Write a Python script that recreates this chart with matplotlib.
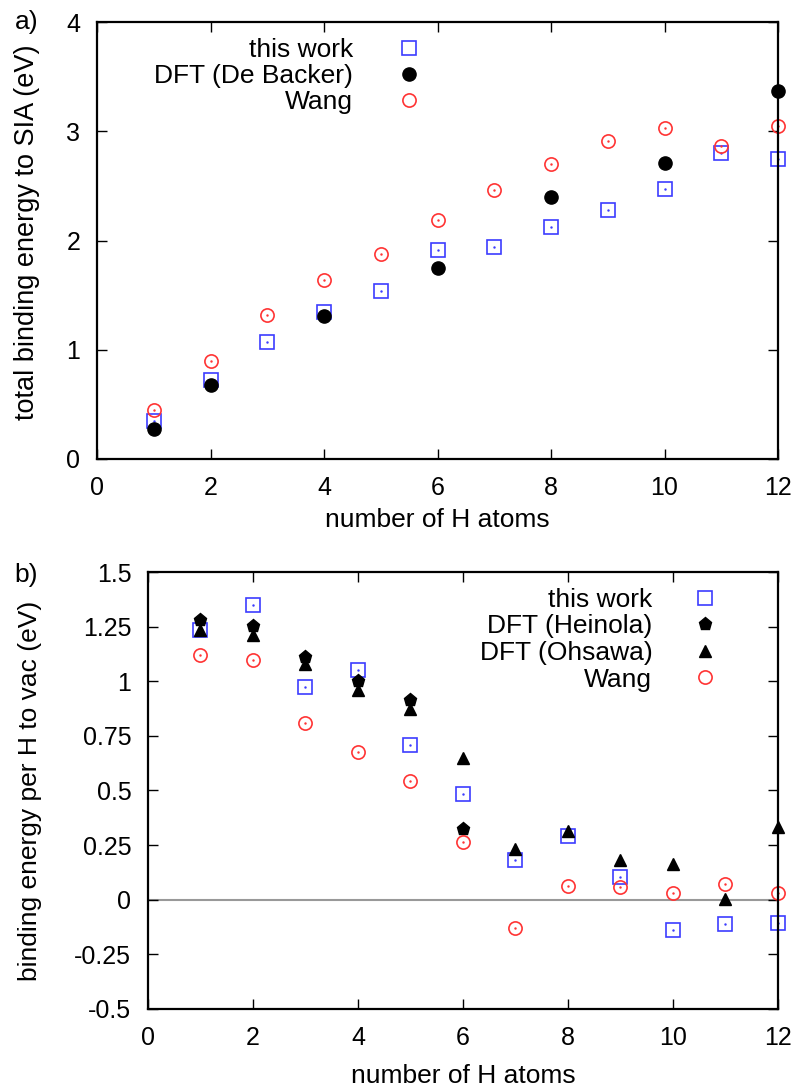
import matplotlib
matplotlib.use("Agg")
import matplotlib.pyplot as plt
import numpy as np

plt.rcParams['font.family'] = ['Liberation Sans', 'DejaVu Sans']
plt.rcParams['axes.unicode_minus'] = False

# ---- data: panel a) total binding energy to SIA (eV)
n_a = [1, 2, 3, 4, 5, 6, 7, 8, 9, 10, 11, 12]
a_this_work = [0.35, 0.72, 1.07, 1.35, 1.54, 1.915, 1.94, 2.125, 2.28, 2.475, 2.80, 2.745]
n_backer = [1, 2, 4, 6, 8, 10, 12]
a_debacker = [0.27, 0.68, 1.305, 1.75, 2.40, 2.71, 3.37]
a_wang = [0.45, 0.895, 1.315, 1.64, 1.88, 2.19, 2.465, 2.70, 2.91, 3.03, 2.865, 3.05]

# ---- data: panel b) binding energy per H to vac (eV)
n_b = [1, 2, 3, 4, 5, 6, 7, 8, 9, 10, 11, 12]
b_this_work = [1.235, 1.35, 0.975, 1.052, 0.706, 0.486, 0.184, 0.29, 0.104, -0.137, -0.111, -0.108]
n_heinola = [1, 2, 3, 4, 5, 6]
b_heinola = [1.282, 1.255, 1.111, 1.0, 0.913, 0.322]
b_ohsawa = [1.233, 1.21, 1.078, 0.96, 0.873, 0.649, 0.23, 0.314, 0.18, 0.162, 0.005, 0.331]
b_wang = [1.12, 1.095, 0.808, 0.674, 0.544, 0.262, -0.131, 0.063, 0.058, 0.030, 0.073, 0.029]

xticks = [0, 2, 4, 6, 8, 10, 12]
yticks_a = [0, 1, 2, 3, 4]
yticks_b = [1.5, 1.25, 1, 0.75, 0.5, 0.25, 0, -0.25, -0.5]
yticklabels_b = ['1.5', '1.25', '1', '0.75', '0.5', '0.25', '0', '-0.25', '-0.5']

BLUE = '#3c3cff'
RED = '#ff3434'
FS = 19
TFS = 18
MS = 9.5

fig = plt.figure(figsize=(7.99, 10.91), dpi=100)
ax1 = fig.add_axes([0.1215, 0.5793, 0.8522, 0.4005])
ax2 = fig.add_axes([0.1852, 0.0752, 0.7885, 0.4005])


def style(ax):
    for s in ax.spines.values():
        s.set_linewidth(1.6)
    ax.tick_params(direction='in', length=7, width=1.0, top=True, right=True,
                   labelsize=TFS, colors='black')
    ax.tick_params(axis='x', pad=12)
    ax.tick_params(axis='y', pad=12)
    ax.set_xlim(0, 12)
    ax.set_xticks(xticks)


def pts(ax, x, y, **kw):
    ax.plot(x, y, linestyle='none', clip_on=False, **kw)


def dot(ax, x, y, color):
    pts(ax, x, y, marker='.', markersize=1.5, color=color)


# panel a
pts(ax1, n_a, a_this_work, marker='s', markersize=MS,
    markerfacecolor='none', markeredgecolor=BLUE, markeredgewidth=1.2, label='this work')
dot(ax1, n_a, a_this_work, BLUE)
pts(ax1, n_backer, a_debacker, marker='o', markersize=MS,
    color='black', label='DFT (De Backer)')
pts(ax1, n_a, a_wang, marker='o', markersize=MS,
    markerfacecolor='none', markeredgecolor=RED, markeredgewidth=1.2, label='Wang')
dot(ax1, n_a, a_wang, RED)
style(ax1)
ax1.set_ylim(0, 4)
ax1.set_yticks(yticks_a)
ax1.set_xlabel('number of H atoms', fontsize=FS, labelpad=6)
ax1.set_ylabel('total binding energy to SIA (eV)', fontsize=19.5)
ax1.yaxis.set_label_coords(-0.0837, 0.52)
ax1.legend(loc='upper right', bbox_to_anchor=(0.473, 0.964), markerfirst=False,
           frameon=False, fontsize=FS, handlelength=0.8, handletextpad=1.7,
           labelspacing=0.08, borderpad=0, borderaxespad=0)
fig.text(0.018, 0.980, 'a)', fontsize=FS, va='center', ha='left')

# panel b
ax2.axhline(0, color='#999999', linewidth=1.5, zorder=0)
pts(ax2, n_b, b_this_work, marker='s', markersize=MS,
    markerfacecolor='none', markeredgecolor=BLUE, markeredgewidth=1.2, label='this work')
dot(ax2, n_b, b_this_work, BLUE)
pts(ax2, n_heinola, b_heinola, marker='p', markersize=MS,
    color='black', label='DFT (Heinola)')
pts(ax2, n_b, b_ohsawa, marker='^', markersize=MS - 1,
    color='black', label='DFT (Ohsawa)')
pts(ax2, n_b, b_wang, marker='o', markersize=MS,
    markerfacecolor='none', markeredgecolor=RED, markeredgewidth=1.2, label='Wang')
dot(ax2, n_b, b_wang, RED)
style(ax2)
ax2.set_ylim(-0.5, 1.5)
ax2.set_yticks(yticks_b)
ax2.set_yticklabels(yticklabels_b)
ax2.set_xlabel('number of H atoms', fontsize=FS, labelpad=10)
ax2.set_ylabel('binding energy per H to vac (eV)', fontsize=FS)
ax2.yaxis.set_label_coords(-0.168, 0.5)
ax2.legend(loc='upper right', bbox_to_anchor=(0.901, 0.964), markerfirst=False,
           frameon=False, fontsize=FS, handlelength=0.8, handletextpad=1.6,
           labelspacing=0.1, borderpad=0, borderaxespad=0)
fig.text(0.018, 0.473, 'b)', fontsize=FS, va='center', ha='left')

fig.savefig('out.png', dpi=100)
